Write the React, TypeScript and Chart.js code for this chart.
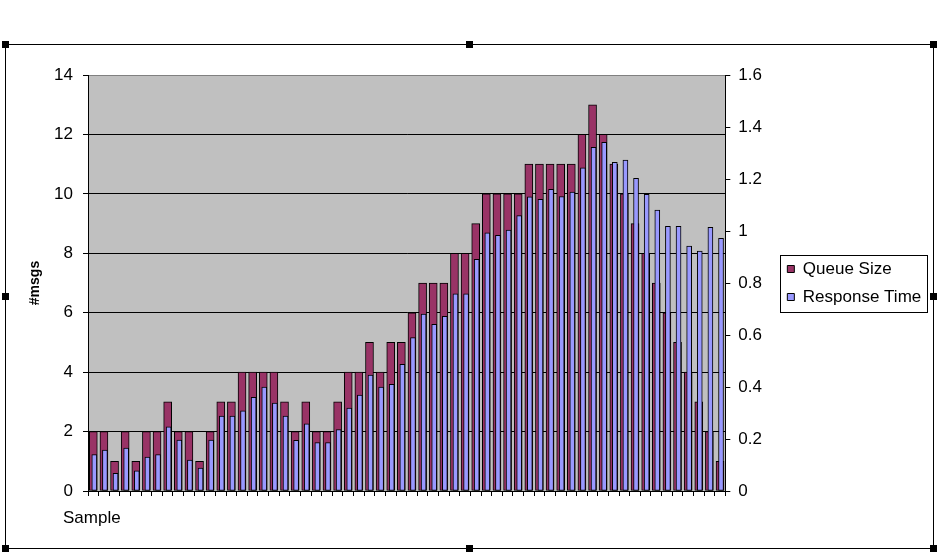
import React, { useEffect, useRef } from "react";
import { Chart, registerables } from "chart.js";

Chart.register(...registerables);

const samples = [
  1, 2, 3, 4, 5, 6, 7, 8, 9, 10, 11, 12, 13, 14, 15, 16, 17, 18, 19, 20,
  21, 22, 23, 24, 25, 26, 27, 28, 29, 30, 31, 32, 33, 34, 35, 36, 37, 38, 39, 40,
  41, 42, 43, 44, 45, 46, 47, 48, 49, 50, 51, 52, 53, 54, 55, 56, 57, 58, 59, 60,
];

const queueSize = [
  2, 2, 1, 2, 1, 2, 2, 3, 2, 2, 1, 2, 3, 3, 4,
  4, 4, 4, 3, 2, 3, 2, 2, 3, 4, 4, 5, 4, 5, 5,
  6, 7, 7, 7, 8, 8, 9, 10, 10, 10, 10, 11, 11, 11, 11,
  11, 12, 13, 12, 11, 10, 9, 8, 7, 6, 5, 4, 3, 2, 1,
];

const responseTime = [
  0.14, 0.157, 0.068, 0.165, 0.078, 0.13, 0.14, 0.247, 0.196, 0.119, 0.088, 0.196, 0.288, 0.288, 0.308,
  0.36, 0.4, 0.338, 0.288, 0.195, 0.258, 0.186, 0.186, 0.236, 0.319, 0.369, 0.446, 0.4, 0.41, 0.487,
  0.59, 0.68, 0.641, 0.672, 0.758, 0.758, 0.891, 0.993, 0.983, 1.004, 1.059, 1.131, 1.122, 1.16, 1.132,
  1.15, 1.243, 1.322, 1.341, 1.264, 1.273, 1.203, 1.141, 1.08, 1.018, 1.018, 0.942, 0.923, 1.014, 0.972,
];

const seriesNames = ["Queue Size", "Response Time"];
const leftAxis = { min: 0, max: 14, step: 2, title: "#msgs" };
const rightAxis = { min: 0, max: 1.6, step: 0.2 };
const xAxisTitle = "Sample";

const FAMILY = '"Liberation Sans", Arial, sans-serif';

const fmt = (v: any) => String(Math.round(Number(v) * 10) / 10);

const decorPlugin = {
  id: "decor",
  beforeDraw(chart: any) {
    const { ctx, chartArea } = chart;
    ctx.save();
    ctx.fillStyle = "#C0C0C0";
    ctx.fillRect(chartArea.left, chartArea.top, chartArea.right - chartArea.left, chartArea.bottom - chartArea.top);
    ctx.strokeStyle = "#808080";
    ctx.lineWidth = 1;
    ctx.beginPath();
    ctx.moveTo(chartArea.left, Math.round(chartArea.top) + 0.5);
    ctx.lineTo(chartArea.right, Math.round(chartArea.top) + 0.5);
    ctx.stroke();
    ctx.restore();
  },
  beforeDatasetDraw(chart: any, args: any) {
    if (args.index === 1) {
      chart.ctx.save();
      chart.ctx.translate(1, 0);
    }
  },
  afterDatasetDraw(chart: any, args: any) {
    if (args.index === 1) chart.ctx.restore();
  },
  afterDraw(chart: any) {
    const { ctx, chartArea, legend } = chart;
    ctx.save();
    // legend border
    const hb = legend && legend.legendHitBoxes;
    if (hb && hb.length) {
      const left = Math.min(...hb.map((h: any) => h.left)) - 7;
      const right = Math.max(...hb.map((h: any) => h.left + h.width)) + 6;
      const top = Math.min(...hb.map((h: any) => h.top)) - 6;
      const bottom = Math.max(...hb.map((h: any) => h.top + h.height)) + 6;
      ctx.strokeStyle = "#000";
      ctx.lineWidth = 1;
      ctx.strokeRect(Math.round(left) + 0.5, Math.round(top) + 0.5, Math.round(right - left), Math.round(bottom - top));
    }
    // x axis title
    ctx.fillStyle = "#000";
    ctx.font = `17px ${FAMILY}`;
    ctx.textAlign = "left";
    ctx.textBaseline = "middle";
    ctx.fillText(xAxisTitle, chartArea.left - 25, chartArea.bottom + 27);
    // chart frame with selection handles
    const fx0 = 5, fy0 = 44, fx1 = 933, fy1 = 548;
    ctx.strokeStyle = "#000";
    ctx.strokeRect(fx0 + 0.5, fy0 + 0.5, fx1 - fx0, fy1 - fy0);
    const mx = Math.round((fx0 + fx1) / 2);
    const my = Math.round((fy0 + fy1) / 2);
    const handles = [
      [fx0, fy0], [mx, fy0], [fx1, fy0],
      [fx0, my], [fx1, my],
      [fx0, fy1], [mx, fy1], [fx1, fy1],
    ];
    ctx.fillStyle = "#000";
    handles.forEach(([x, y]) => ctx.fillRect(x - 3, y - 3, 7, 7));
    ctx.restore();
  },
};

export default function App() {
  const canvasRef = useRef<HTMLCanvasElement | null>(null);

  useEffect(() => {
    const canvas = canvasRef.current;
    if (!canvas) return;
    const chart = new Chart(canvas, {
      type: "bar",
      data: {
        labels: samples,
        datasets: [
          {
            label: seriesNames[0],
            data: queueSize,
            yAxisID: "y",
            backgroundColor: "#993366",
            borderColor: "#000000",
            borderWidth: 1,
            borderSkipped: false,
            barThickness: 8,
            grouped: false,
            order: 2,
          },
          {
            label: seriesNames[1],
            data: responseTime,
            yAxisID: "y1",
            backgroundColor: "#9999FF",
            borderColor: "#000000",
            borderWidth: 1,
            borderSkipped: false,
            barThickness: 5,
            grouped: false,
            order: 1,
          },
        ],
      },
      options: {
        responsive: false,
        animation: false,
        devicePixelRatio: 1,
        layout: { padding: { left: 23, top: 75, right: 11, bottom: 57 } },
        plugins: {
          legend: {
            position: "right",
            fullSize: false,
            align: "center",
            labels: {
              boxWidth: 7,
              boxHeight: 7,
              padding: 11,
              color: "#000",
              font: { size: 17, family: FAMILY },
              sort: (a: any, b: any) => a.datasetIndex - b.datasetIndex,
            },
          },
          tooltip: { enabled: false },
        },
        scales: {
          x: {
            type: "category",
            offset: true,
            grid: {
              offset: true,
              drawOnChartArea: false,
              tickLength: 5,
              color: "#000",
              tickColor: "#000",
            },
            border: { display: true, color: "#000" },
            ticks: { display: false },
          },
          y: {
            position: "left",
            min: leftAxis.min,
            max: leftAxis.max,
            ticks: {
              stepSize: leftAxis.step,
              padding: 10,
              color: "#000",
              font: { size: 17, family: FAMILY },
              callback: fmt,
            },
            grid: {
              color: (c: any) => (c.tick && c.tick.value === leftAxis.max ? "#808080" : "#000"),
              tickColor: "#000",
              tickLength: 5,
            },
            border: { display: true, color: "#000" },
            title: {
              display: true,
              text: leftAxis.title,
              color: "#000",
              font: { size: 14, weight: "bold", family: FAMILY },
            },
            afterFit: (s: any) => {
              s.width = 65;
            },
          },
          y1: {
            position: "right",
            min: rightAxis.min,
            max: rightAxis.max,
            ticks: {
              stepSize: rightAxis.step,
              padding: 8,
              color: "#000",
              font: { size: 17, family: FAMILY },
              callback: fmt,
            },
            grid: {
              drawOnChartArea: false,
              tickLength: 5,
              color: "#000",
              tickColor: "#000",
            },
            border: { display: true, color: "#000" },
            afterFit: (s: any) => {
              s.width = 51;
            },
          },
        },
      } as any,
      plugins: [decorPlugin],
    });
    return () => chart.destroy();
  }, []);

  return (
    <div style={{ position: "absolute", left: 0, top: 0, width: 938, height: 553, background: "#fff" }}>
      <canvas ref={canvasRef} width={938} height={553} style={{ display: "block" }} />
    </div>
  );
}
